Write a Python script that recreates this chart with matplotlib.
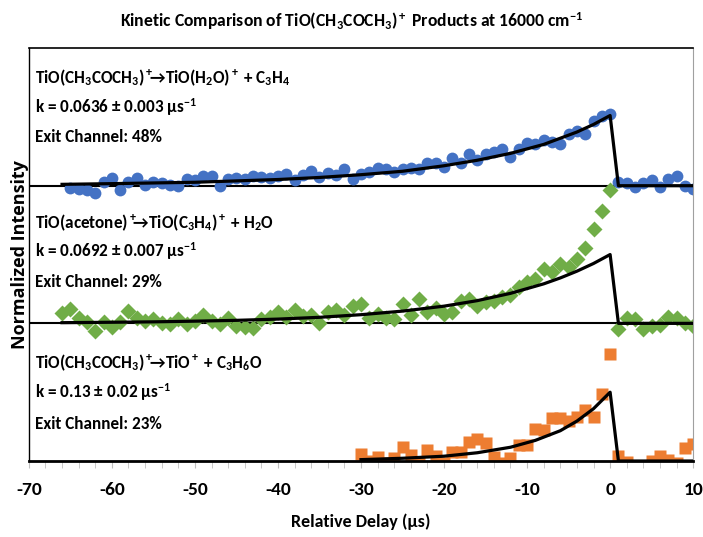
import matplotlib
matplotlib.use("Agg")
import matplotlib.pyplot as plt
from matplotlib import font_manager as fm

# pick a Calibri-like narrow font if one is around, otherwise Lato
installed = {f.name for f in fm.fontManager.ttflist}
main_font = 'Lato'
for cand in ['Carlito', 'Liberation Sans Narrow', 'Roboto Condensed', 'Open Sans Condensed', 'Lato']:
    if cand in installed:
        main_font = cand
        break

plt.rcParams['font.family'] = [main_font, 'DejaVu Sans']
plt.rcParams['font.weight'] = 'bold'
plt.rcParams['axes.unicode_minus'] = False
plt.rcParams['mathtext.fontset'] = 'custom'
plt.rcParams['mathtext.rm'] = main_font + ':bold'
plt.rcParams['mathtext.it'] = main_font + ':bold'
plt.rcParams['mathtext.bf'] = main_font + ':bold'
plt.rcParams['mathtext.default'] = 'rm'

# --- data (offset panels: 2 = top, 1 = middle, 0 = bottom)
t_blue = list(range(-65, 11))
h2o_loss = [  # TiO(H2O)+ + C3H4 channel, blue circles
    -0.017, -0.024, -0.03, -0.053, 0.024, 0.056, -0.03, 0.024, 0.056, 0.007,
    0.024, 0.019, 0.007, 0.0, 0.048, 0.039, 0.073, 0.068, -0.005, 0.048,
    0.056, 0.048, 0.073, 0.063, 0.056, 0.073, 0.087, 0.039, 0.08, 0.11,
    0.063, 0.092, 0.08, 0.12, 0.048, 0.087, 0.097, 0.128, 0.121, 0.097,
    0.121, 0.126, 0.121, 0.165, 0.165, 0.133, 0.199, 0.165, 0.23, 0.189,
    0.23, 0.247, 0.267, 0.206, 0.27, 0.31, 0.303, 0.335, 0.32, 0.303,
    0.376, 0.40, 0.376, 0.473, 0.509, 0.521,
    0.024, 0.019, -0.012, 0.019, 0.044, -0.012, 0.048, 0.068, 0.0, -0.024,
]

t_green = list(range(-66, 11))
c3h4 = [  # TiO(C3H4)+ + H2O channel, green diamonds
    0.073, 0.107, 0.041, 0.01, -0.056, 0.01, -0.03, 0.01, 0.09, 0.041,
    0.017, 0.034, 0.0, -0.005, 0.034, -0.005, 0.017, 0.058, 0.017, -0.005,
    0.041, -0.02, -0.03, -0.035, 0.034, 0.048, 0.082, 0.048, 0.097, 0.05,
    0.058, 0.0, 0.082, 0.10, 0.058, 0.126, 0.14, 0.04, 0.07, 0.041,
    0.034, 0.138, 0.058, 0.18, 0.082, 0.114, 0.065, 0.082, 0.162, 0.175,
    0.126, 0.155, 0.162, 0.194, 0.204, 0.267, 0.30, 0.32, 0.393, 0.373,
    0.43, 0.41, 0.47, 0.545, 0.684, 0.817, 0.97,
    -0.044, 0.041, 0.034, -0.04, -0.02, -0.015, 0.048, 0.041, 0.005, -0.02,
]

t_orange = list(range(-30, 11))
tio = [  # TiO+ + C3H6O channel, orange squares
    0.051, 0.0, 0.03, -0.017, 0.02, 0.104, 0.044, -0.005, 0.08, 0.036,
    -0.017, 0.068, 0.068, 0.14, 0.158, 0.128, 0.03, -0.012, 0.02, 0.116,
    0.116, 0.23, 0.225, 0.31, 0.31, 0.293, 0.318, 0.37, 0.322, 0.49, 0.778,
    0.036, -0.005, -0.046, -0.046, 0.0, 0.036, 0.007, -0.017, 0.092, 0.124,
]

# fitted curves
fit_t_long = [-66, -60, -55, -50, -45, -40, -35, -30, -25, -20, -16, -12, -8, -6, -4, -2, 0, 1, 10]
fit_h2o = [0.01, 0.015, 0.02, 0.025, 0.035, 0.045, 0.06, 0.08, 0.105, 0.145, 0.185,
           0.235, 0.30, 0.345, 0.39, 0.445, 0.51, 0.0, 0.0]
fit_c3h4 = [0.005, 0.008, 0.011, 0.016, 0.022, 0.031, 0.044, 0.063, 0.089, 0.125, 0.165,
            0.218, 0.287, 0.33, 0.379, 0.435, 0.50, 0.0, 0.0]
fit_t_short = [-30, -25, -20, -16, -12, -9, -6, -4, -2, 0, 1, 10]
fit_tio = [0.01, 0.02, 0.035, 0.06, 0.10, 0.15, 0.22, 0.29, 0.38, 0.50, 0.0, 0.0]

labels = [
    [r"TiO(CH$_3$COCH$_3$)$^+\!\!$→TiO(H$_2$O)$^+$ + C$_3$H$_4$",
     "k = 0.0636 ± 0.003 µs$^{-1}$", "Exit Channel: 48%"],
    [r"TiO(acetone)$^+\!\!$→TiO(C$_3$H$_4$)$^+$ + H$_2$O",
     "k = 0.0692 ± 0.007 µs$^{-1}$", "Exit Channel: 29%"],
    [r"TiO(CH$_3$COCH$_3$)$^+\!\!$→TiO$^+$ + C$_3$H$_6$O",
     "k = 0.13 ± 0.02 µs$^{-1}$", "Exit Channel: 23%"],
]

fig = plt.figure(figsize=(7.03, 5.37), dpi=100)
ax = fig.add_axes([0.041, 0.1415, 0.945, 0.769])

ax.plot(t_blue, [v + 2 for v in h2o_loss], 'o', color='#4472C4', ms=8.5, mec='none', zorder=2)
ax.plot(t_green, [v + 1 for v in c3h4], 'D', color='#70AD47', ms=7.8, mec='none', zorder=2)
ax.plot(t_orange, tio, 's', color='#ED7D31', ms=8.3, mec='none', zorder=2)

ax.plot(fit_t_long, [v + 2 for v in fit_h2o], color='black', lw=2.3, zorder=3)
ax.plot(fit_t_long, [v + 1 for v in fit_c3h4], color='black', lw=2.3, zorder=3)
ax.plot(fit_t_short, fit_tio, color='black', lw=2.3, zorder=3)

for yb in (1, 2):
    ax.axhline(yb, color='black', lw=1.5, zorder=1)

text_y = [[2.785, 2.57, 2.355], [1.73, 1.525, 1.30], [0.715, 0.50, 0.27]]
for lines, ys in zip(labels, text_y):
    for s, y in zip(lines, ys):
        ax.text(-69.2, y, s, fontsize=12.3, va='center', ha='left')

ax.set_xlim(-70, 10)
ax.set_ylim(0, 3)
ax.set_xticks(range(-70, 11, 10))
ax.set_xticks(range(-70, 11, 2), minor=True)
ax.tick_params(axis='x', which='both', direction='out', length=5, color='#BFBFBF',
               labelsize=14, pad=10)
ax.set_yticks([])
ax.spines['bottom'].set_linewidth(2)
ax.spines['left'].set_linewidth(1)
ax.spines['top'].set_linewidth(1.2)
ax.spines['right'].set_color('#A0A0A0')

ax.set_xlabel("Relative Delay (µs)", fontsize=13, fontweight='bold', labelpad=11)
ax.set_ylabel("Normalized Intensity", fontsize=13, fontweight='bold',
              family=['Open Sans', 'DejaVu Sans'], labelpad=0)
fig.suptitle("Kinetic Comparison of TiO(CH$_3$COCH$_3$)$^+$ Products at 16000 cm$^{-1}$",
             fontsize=12.7, fontweight='bold', y=0.98)

fig.savefig("out.png", dpi=100)
